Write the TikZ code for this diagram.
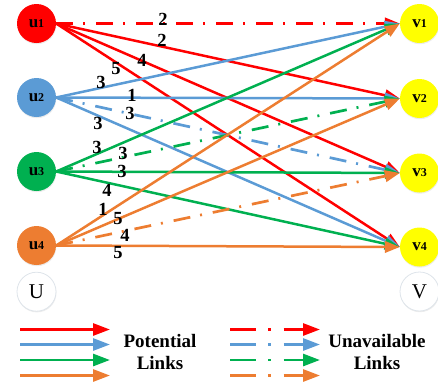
\documentclass[tikz,border=0pt]{standalone}
\usepackage{fontspec}
\setmainfont{Liberation Serif}
\usetikzlibrary{arrows.meta,shadows}
\definecolor{cred}{RGB}{255,0,0}
\definecolor{cblue}{RGB}{91,155,213}
\definecolor{cgreen}{RGB}{0,176,80}
\definecolor{corange}{RGB}{237,125,49}
\definecolor{cyellow}{RGB}{255,255,0}
\definecolor{rimgray}{RGB}{222,228,234}
\pgfdeclarelayer{edges}
\pgfsetlayers{edges,main}
% vertex caption: letter plus a smaller index
\newcommand\vtxname[2]{{\fontsize{17}{17}\selectfont\bfseries #1}{\fontsize{12}{12}\selectfont\bfseries #2}}
\begin{document}
\begin{tikzpicture}[x=1pt,y=-1pt,
  vert/.style={circle, minimum size=39pt, inner sep=0pt,
    drop shadow={opacity=0.15, shadow xshift=0.4pt, shadow yshift=-1.2pt}},
  uvert/.style={vert, fill=#1},
  vvert/.style={vert, fill=cyellow},
  setvert/.style={vert, fill=white, draw=rimgray, line width=0.8pt,
    font=\fontsize{21}{21}\selectfont},
  link/.style={line width=2.5pt, draw=#1, -{Triangle[length=15pt,width=11.5pt]}},
  unav/.style={link=#1, line width=2.7pt, dash pattern=on 17pt off 10pt on 2pt off 11pt},
  wlab/.style={font=\fontsize{18.5}{18.5}\selectfont\bfseries, inner sep=0pt},
  leg/.style={line width=2.8pt, draw=#1, -{Triangle[length=17pt,width=12pt]}},
  legd/.style={leg=#1, dash pattern=on 26pt off 12pt on 2.5pt off 13pt on 60pt},
  legtxt/.style={font=\fontsize{19}{19}\selectfont\bfseries, inner sep=0pt},
]
\useasboundingbox (0,0) rectangle (438,386);

% vertex sets
\node[uvert=cred]    (u1) at (36.5,23.5)  {\vtxname{u}{1}};
\node[uvert=cblue]   (u2) at (36.5,97.5)  {\vtxname{u}{2}};
\node[uvert=cgreen]  (u3) at (36.5,171.5) {\vtxname{u}{3}};
\node[uvert=corange] (u4) at (36.5,245.5) {\vtxname{u}{4}};
\node[setvert]       (U)  at (36.5,291.7) {U};

\node[vvert] (v1) at (419.5,23.5)  {\vtxname{v}{1}};
\node[vvert] (v2) at (419.5,98.5)  {\vtxname{v}{2}};
\node[vvert] (v3) at (419.5,173)   {\vtxname{v}{3}};
\node[vvert] (v4) at (419.5,247)   {\vtxname{v}{4}};
\node[setvert] (V) at (419.5,291.5) {V};

\begin{pgfonlayer}{edges}
% links from u1
\draw[link=cred] (u1.east) -- (v2.west);
\draw[link=cred] (u1.east) -- (v3.west);
\draw[link=cred] (u1.east) -- (v4.west);
\draw[unav=cred] (u1.east) -- (v1.west);
% links from u2
\draw[link=cblue] (u2.east) -- (v1.west);
\draw[link=cblue] (u2.east) -- (v2.west);
\draw[unav=cblue] (u2.east) -- (v3.west);
\draw[link=cblue] (u2.east) -- (v4.west);
% links from u3
\draw[link=cgreen] (u3.east) -- (v1.west);
\draw[unav=cgreen] (u3.east) -- (v2.west);
\draw[link=cgreen] (u3.east) -- (v3.west);
\draw[link=cgreen] (u3.east) -- (v4.west);
% links from u4
\draw[link=corange] (u4.east) -- (v1.west);
\draw[link=corange] (u4.east) -- (v2.west);
\draw[unav=corange] (u4.east) -- (v3.west);
\draw[link=corange] (u4.east) -- (v4.west);
\end{pgfonlayer}

% link weights
\node[wlab] (w11) at (163,19)  {2};
\node[wlab] (w12) at (162,40)  {2};
\node[wlab] (w13) at (142,60)  {4};
\node[wlab] (w14) at (116,69)  {5};
\node[wlab] (w21) at (101,82)  {3};
\node[wlab] (w22) at (132,95)  {1};
\node[wlab] (w23) at (130,113) {3};
\node[wlab] (w24) at (98,123)  {3};
\node[wlab] (w31) at (97,147)  {3};
\node[wlab] (w32) at (123,153) {3};
\node[wlab] (w33) at (122,171) {3};
\node[wlab] (w34) at (107,190) {4};
\node[wlab] (w41) at (103,209) {1};
\node[wlab] (w42) at (118,219) {5};
\node[wlab] (w43) at (125,235) {4};
\node[wlab] (w44) at (118,253) {5};

% legend
\foreach \c/\y [count=\i] in {cred/329.5, cblue/344.5, cgreen/360, corange/375.5} {
  \coordinate (pa\i) at (20,\y);
  \coordinate (pb\i) at (110,\y);
  \coordinate (qa\i) at (230,\y);
  \coordinate (qb\i) at (320,\y);
  \draw[leg=\c] (pa\i) -- (pb\i);
  \draw[legd=\c] (qa\i) -- (qb\i);
}
\node[legtxt] (pt1) at (160,341) {Potential};
\node[legtxt] (pt2) at (160,363) {Links};
\node[legtxt] (ut1) at (377,341) {Unavailable};
\node[legtxt] (ut2) at (377,363) {Links};
\end{tikzpicture}
\end{document}
